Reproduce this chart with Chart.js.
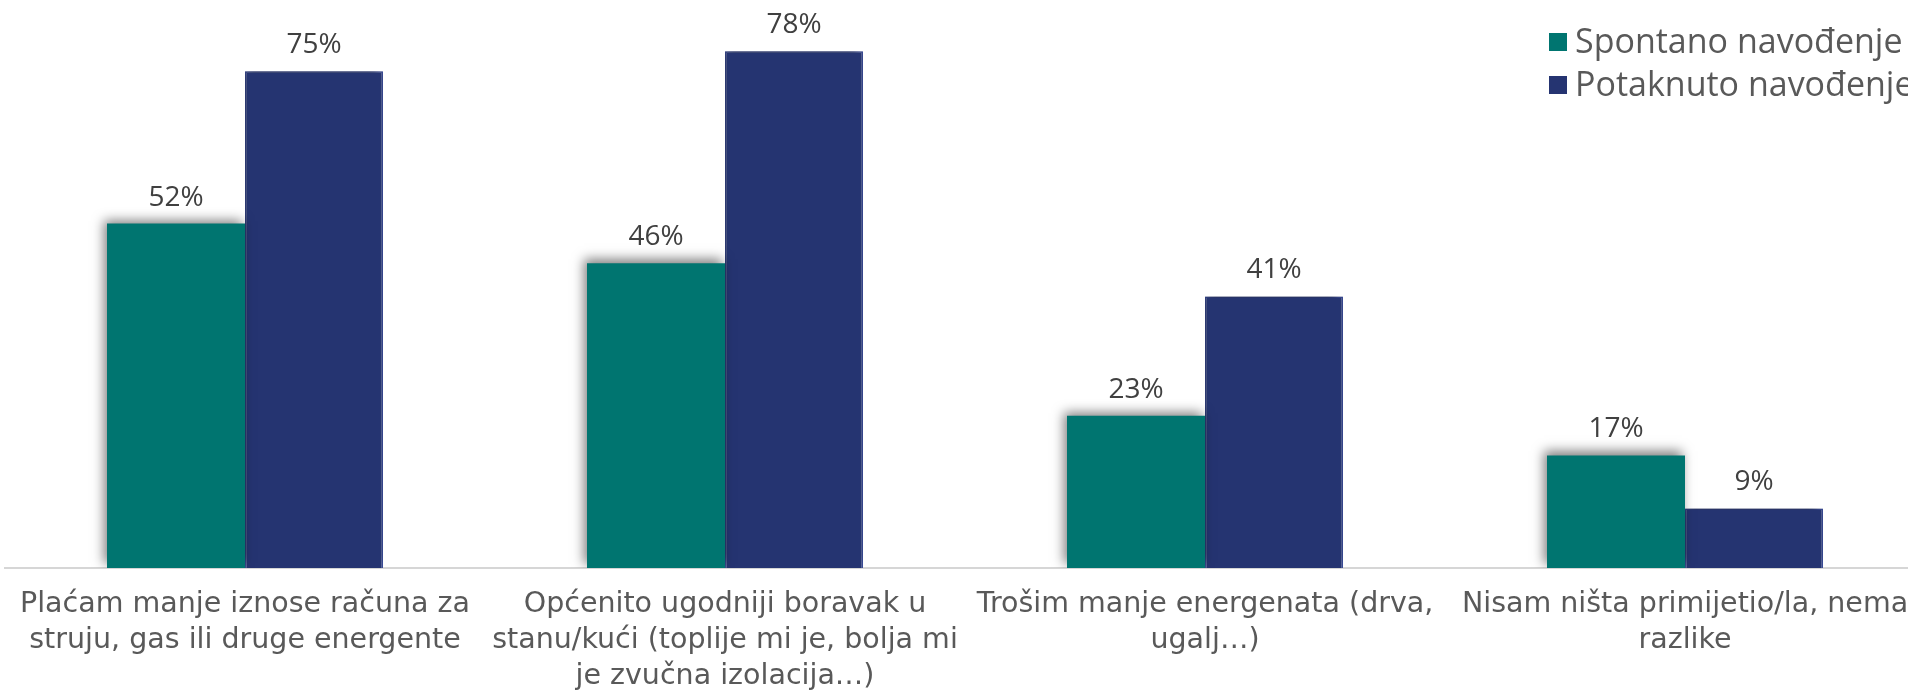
<!DOCTYPE html>
<html>
<head>
<meta charset="utf-8">
<script src="https://cdn.jsdelivr.net/npm/chart.js@4/dist/chart.umd.min.js"></script>
<style>
  html, body { margin: 0; padding: 0; background: #fff; overflow: hidden; }
  #wrap { position: absolute; left: 0; top: 0; width: 1930px; height: 714px; }
</style>
</head>
<body>
<div id="wrap"><canvas id="chart" width="1930" height="714"></canvas></div>
<script>
const categories = [
  ["Plaćam manje iznose računa za", "struju, gas ili druge energente"],
  ["Općenito ugodniji boravak u", "stanu/kući (toplije mi je, bolja mi", "je zvučna izolacija…)"],
  ["Trošim manje energenata (drva,", "ugalj…)"],
  ["Nisam ništa primijetio/la, nema", "razlike"]
];
const seriesNames = ["Spontano navođenje", "Potaknuto navođenje"];
const spontano = [52, 46, 23, 17];
const potaknuto = [75, 78, 41, 9];

const FONT = "'Open Sans', 'DejaVu Sans', sans-serif";
const TEXT = "#595959";

const barShadow = {
  id: "barShadow",
  beforeDatasetDraw(chart) {
    const ctx = chart.ctx;
    ctx.save();
    ctx.shadowColor = "rgba(0,0,0,0.5)";
    ctx.shadowBlur = 11;
    ctx.shadowOffsetX = -3;
    ctx.shadowOffsetY = -4;
  },
  afterDatasetDraw(chart) {
    chart.ctx.restore();
  }
};

const valueLabels = {
  id: "valueLabels",
  afterDatasetsDraw(chart) {
    const ctx = chart.ctx;
    ctx.save();
    ctx.font = "28px " + FONT;
    ctx.fillStyle = "#404040";
    ctx.textAlign = "center";
    ctx.textBaseline = "alphabetic";
    chart.data.datasets.forEach((ds, i) => {
      chart.getDatasetMeta(i).data.forEach((bar, j) => {
        ctx.fillText(ds.data[j] + "%", bar.x, bar.y - 18);
      });
    });
    ctx.restore();
  }
};

const cornerLegend = {
  id: "cornerLegend",
  afterDraw(chart) {
    const ctx = chart.ctx;
    ctx.save();
    ctx.font = "34px " + FONT;
    ctx.textBaseline = "middle";
    ctx.textAlign = "left";
    chart.data.datasets.forEach((ds, i) => {
      const cy = 42 + i * 43;
      ctx.fillStyle = ds.backgroundColor;
      ctx.fillRect(1549, cy - 9, 18, 18);
      ctx.fillStyle = TEXT;
      ctx.fillText(ds.label, 1575, cy + 1);
    });
    ctx.restore();
  }
};

new Chart(document.getElementById("chart").getContext("2d"), {
  type: "bar",
  data: {
    labels: categories,
    datasets: [
      {
        label: seriesNames[0],
        data: spontano,
        backgroundColor: "#007570",
        borderWidth: 0
      },
      {
        label: seriesNames[1],
        data: potaknuto,
        backgroundColor: "#253471",
        borderColor: "#3d4f9e",
        borderWidth: 1.5
      }
    ]
  },
  options: {
    responsive: false,
    animation: false,
    devicePixelRatio: 1,
    categoryPercentage: 0.575,
    barPercentage: 1,
    layout: { padding: { top: 38, left: 5, right: 5, bottom: 0 } },
    plugins: {
      legend: { display: false },
      tooltip: { enabled: false }
    },
    scales: {
      x: {
        grid: { display: true, drawOnChartArea: false, drawTicks: false, color: "transparent" },
        border: { display: true, color: "#d6d6d6", width: 2 },
        ticks: {
          color: TEXT,
          padding: 19,
          font: { family: "'DejaVu Sans', sans-serif", size: 28.5, lineHeight: "36px" },
          maxRotation: 0,
          autoSkip: false
        }
      },
      y: {
        display: false,
        min: 0,
        max: 80
      }
    }
  },
  plugins: [barShadow, valueLabels, cornerLegend]
});
</script>
</body>
</html>
